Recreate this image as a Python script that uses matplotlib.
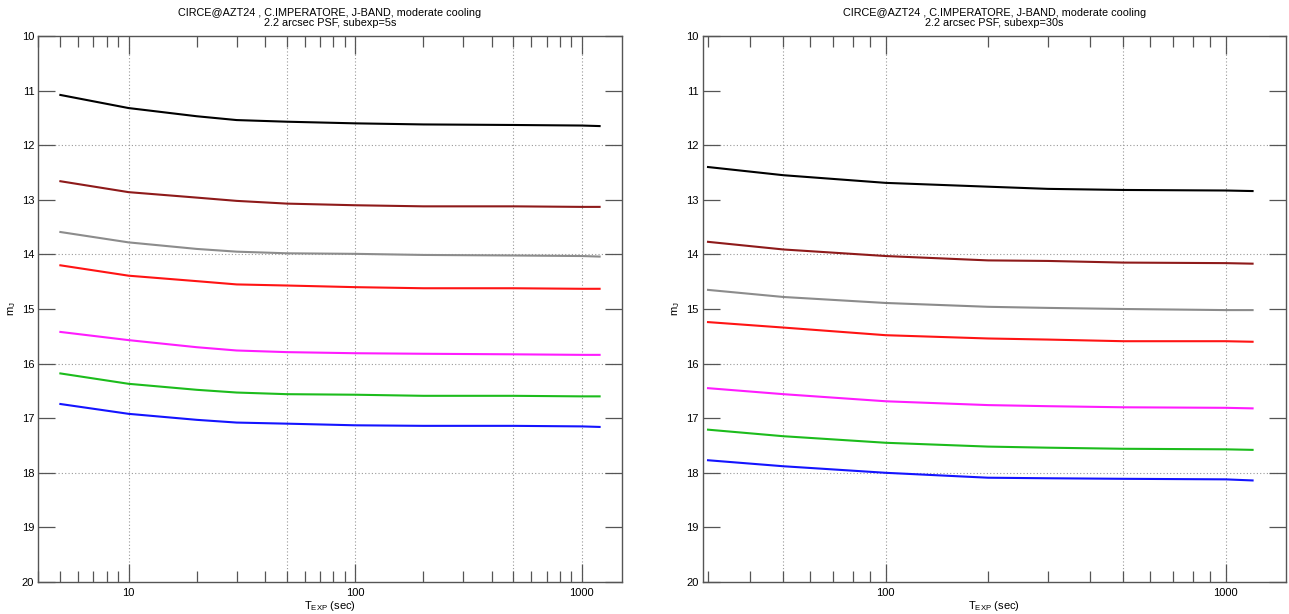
import numpy as np
import matplotlib
matplotlib.use("Agg")
from matplotlib import pyplot as plt
from matplotlib.ticker import FixedLocator, NullFormatter

plt.rcParams['font.family'] = ['Liberation Sans', 'DejaVu Sans']
plt.rcParams['mathtext.fontset'] = 'custom'
plt.rcParams['mathtext.rm'] = 'Liberation Sans'

# limiting magnitude vs total exposure time, one curve per S/N level
t_5s = [5, 10, 20, 30, 50, 100, 200, 500, 1000, 1200]
mag_5s = {
    'black':   [11.08, 11.32, 11.47, 11.54, 11.57, 11.60, 11.62, 11.63, 11.64, 11.65],
    'darkred': [12.66, 12.86, 12.96, 13.02, 13.07, 13.10, 13.12, 13.12, 13.13, 13.13],
    'gray':    [13.59, 13.78, 13.90, 13.95, 13.98, 13.99, 14.01, 14.02, 14.03, 14.04],
    'red':     [14.20, 14.39, 14.49, 14.55, 14.57, 14.60, 14.62, 14.62, 14.63, 14.63],
    'magenta': [15.42, 15.57, 15.70, 15.76, 15.79, 15.81, 15.82, 15.83, 15.84, 15.84],
    'green':   [16.18, 16.37, 16.48, 16.53, 16.56, 16.57, 16.59, 16.59, 16.60, 16.60],
    'blue':    [16.74, 16.92, 17.03, 17.08, 17.10, 17.13, 17.14, 17.14, 17.15, 17.16],
}

t_30s = [30, 50, 100, 200, 300, 500, 1000, 1200]
mag_30s = {
    'black':   [12.40, 12.55, 12.69, 12.76, 12.80, 12.82, 12.83, 12.84],
    'darkred': [13.77, 13.91, 14.03, 14.11, 14.12, 14.15, 14.16, 14.17],
    'gray':    [14.65, 14.78, 14.89, 14.96, 14.98, 15.00, 15.02, 15.02],
    'red':     [15.24, 15.34, 15.48, 15.54, 15.56, 15.59, 15.59, 15.60],
    'magenta': [16.45, 16.56, 16.69, 16.76, 16.78, 16.80, 16.81, 16.82],
    'green':   [17.21, 17.33, 17.45, 17.52, 17.54, 17.56, 17.57, 17.58],
    'blue':    [17.77, 17.88, 18.00, 18.09, 18.10, 18.11, 18.12, 18.14],
}

colors = {'black': '#000000', 'darkred': '#8e1a1a', 'gray': '#8c8c8c',
          'red': '#ff1414', 'magenta': '#ff1cff', 'green': '#1cbc1c',
          'blue': '#1414ff'}

title1 = "CIRCE@AZT24 , C.IMPERATORE, J-BAND, moderate cooling"
subtitles = ["2.2 arcsec PSF, subexp=5s", "2.2 arcsec PSF, subexp=30s"]

fig = plt.figure(figsize=(12.89, 6.14), dpi=100)
ax1 = fig.add_axes([0.0298, 0.0521, 0.4524, 0.8893])
ax2 = fig.add_axes([0.5454, 0.0521, 0.4519, 0.8893])

frame = '#555555'


def draw_panel(ax, t, mags, xmin, sub, grid_x):
    ax.set_xscale('log')
    ax.set_xlim(xmin, 1500)
    ax.set_ylim(20, 10)
    for gx in grid_x:
        ax.axvline(gx, color='#999999', lw=0.8, ls=(0, (1, 2)), zorder=1)
    for gy in [12, 14, 16, 18]:
        ax.axhline(gy, color='#999999', lw=0.8, ls=(0, (1, 2)), zorder=1)
    for key, m in mags.items():
        ax.plot(t, m, color=colors[key], lw=1.5, zorder=3)

    ax.xaxis.set_major_locator(FixedLocator([10, 100, 1000]))
    ax.xaxis.set_minor_locator(FixedLocator(
        [v * d for d in (1, 10, 100) for v in range(2, 10)]))
    ax.xaxis.set_minor_formatter(NullFormatter())
    ax.set_xticklabels(['10', '100', '1000'])
    ax.set_yticks(np.arange(10, 21))
    ax.tick_params(axis='x', which='major', direction='in', length=13,
                   top=True, width=0.9, color=frame, labelsize=8, pad=4)
    ax.tick_params(axis='x', which='minor', direction='in', length=8,
                   top=True, width=0.9, color=frame)
    ax.tick_params(axis='y', direction='in', length=12, right=True,
                   width=0.9, color=frame, labelsize=8, pad=3)
    for s in ax.spines.values():
        s.set_color(frame)
        s.set_linewidth(1.0)
    ax.set_xlabel(r'T$_{\rm EXP}$ (sec)', fontsize=8, labelpad=1)
    ax.set_ylabel(r'm$_{\rm J}$', fontsize=8, labelpad=3)
    ax.set_title(title1 + "\n" + sub, fontsize=7.8, pad=7, linespacing=1.0)


draw_panel(ax1, t_5s, mag_5s, 4, subtitles[0], [10, 50, 100, 500, 1000])
draw_panel(ax2, t_30s, mag_30s, 29, subtitles[1], [50, 100, 500, 1000])

fig.savefig('out.png', dpi=100)
